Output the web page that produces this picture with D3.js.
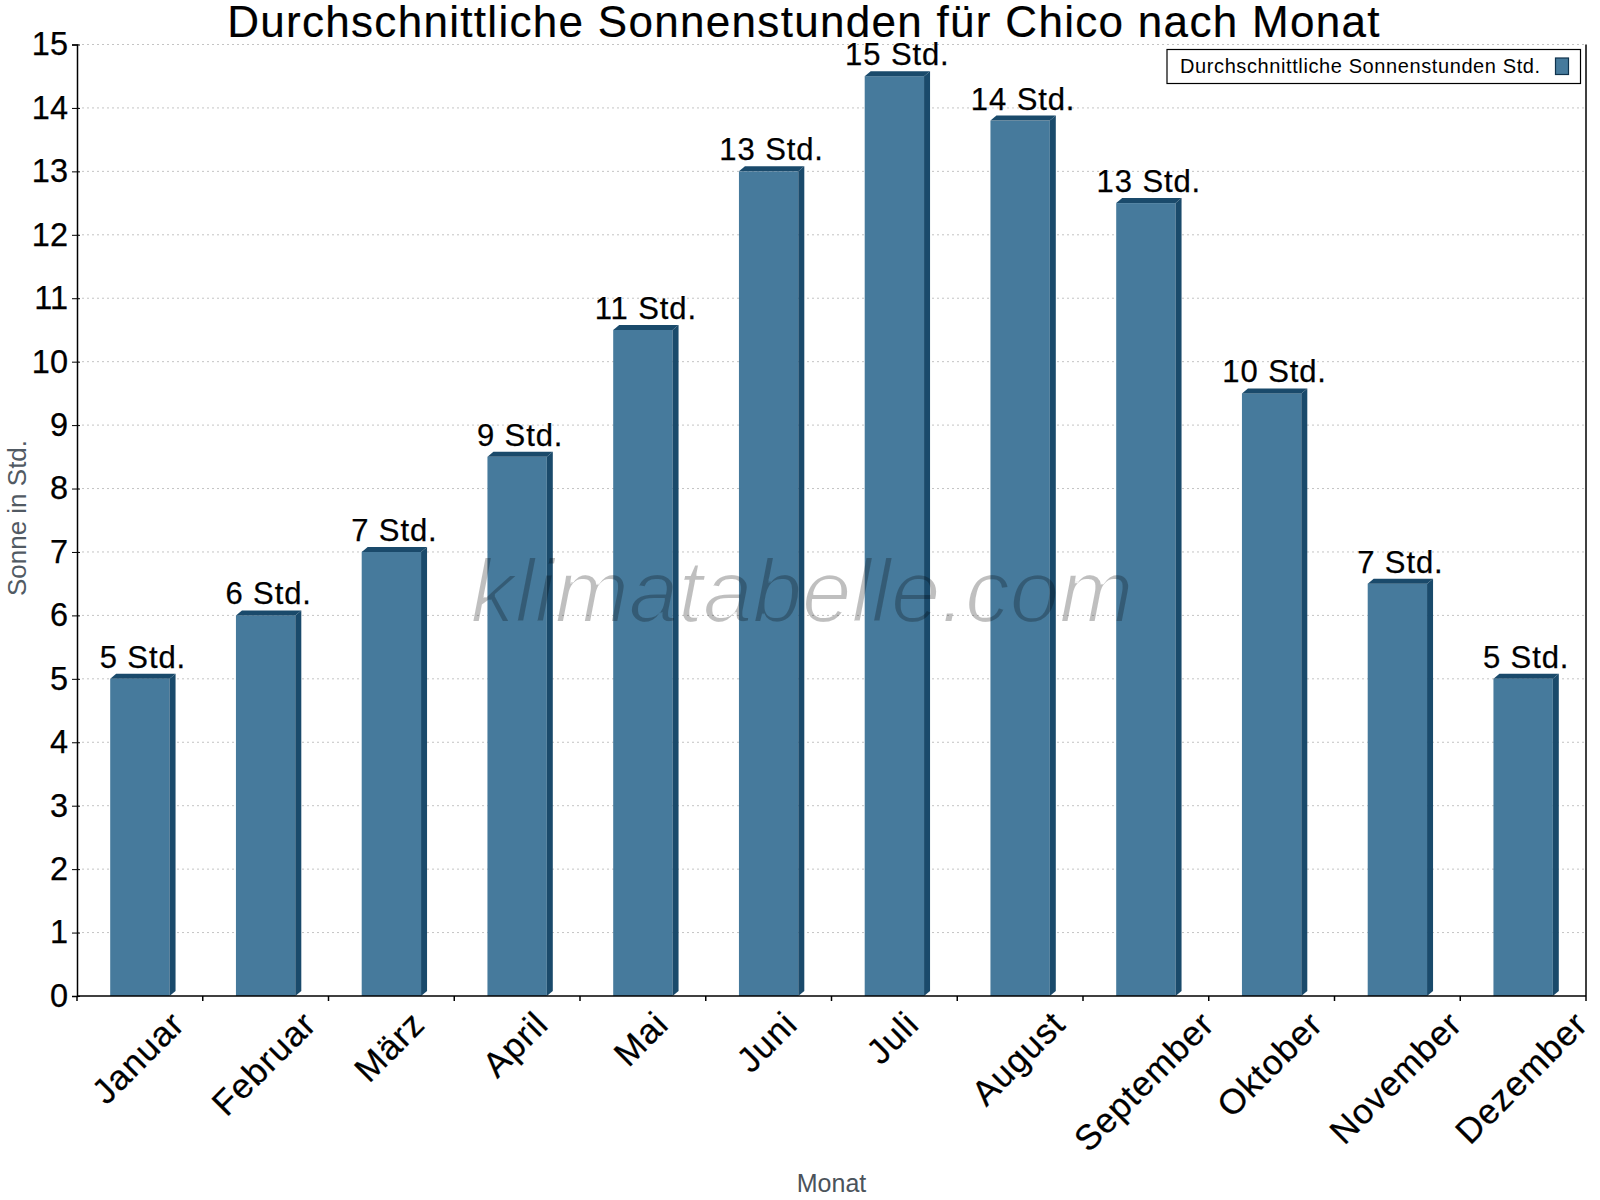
<!DOCTYPE html>
<html lang="de">
  <head>
    <meta charset="utf-8">
    <title>Durchschnittliche Sonnenstunden Chico</title>
    <script src="https://cdn.jsdelivr.net/npm/d3@7"></script>
  </head>
  <style>
    body { margin: 0; background: #fff; }
    text { font-family: 'Liberation Sans', Arial, sans-serif; }
  </style>
  <body>
    <div id="chart-area"></div>
    <script>
      const months = ['Januar','Februar','März','April','Mai','Juni','Juli','August','September','Oktober','November','Dezember'];
      const sunHours = [5, 6, 7, 8.5, 10.5, 13, 14.5, 13.8, 12.5, 9.5, 6.5, 5];
      const yTicks = [0,1,2,3,4,5,6,7,8,9,10,11,12,13,14,15];
      const unit = 'Std.';

      const svg_width = 1600;
      const svg_height = 1200;
      const plot_left = 77, plot_right = 1586, plot_top = 44.5, plot_bottom = 996;
      const depth = 6; // 3d offset of bar side/top
      const front_color = '#467a9c';
      const dark_color = '#1a4a6b';

      const svg = d3.select('#chart-area')
        .append('svg')
        .attr('width', svg_width)
        .attr('height', svg_height);

      //thin the watermark strokes (no light font face available)
      svg.append('defs')
        .append('filter')
        .attr('id', 'thin')
        .append('feMorphology')
        .attr('operator', 'erode')
        .attr('radius', 1);

      //scales
      const x_scale = d3.scaleBand()
        .domain(months)
        .range([plot_left, plot_right]);
      const y_scale = d3.scaleLinear()
        .domain([0, 15])
        .range([plot_bottom, plot_top]);
      const bar_w = x_scale.bandwidth() * 0.472;
      const bar_x = (m) => x_scale(m) + (x_scale.bandwidth() - bar_w) / 2;

      //grid lines
      svg.append('g')
        .selectAll('line')
        .data(yTicks.slice(1))
        .enter()
        .append('line')
        .attr('x1', plot_left).attr('x2', plot_right)
        .attr('y1', d => y_scale(d)).attr('y2', d => y_scale(d))
        .attr('stroke', '#c4c4c4')
        .attr('stroke-width', 1)
        .attr('stroke-dasharray', '2,3');

      //bars: front, side, top
      const bars = svg.append('g')
        .selectAll('g')
        .data(months.map((m, i) => ({m: m, v: sunHours[i]})))
        .enter()
        .append('g');
      bars.append('rect')
        .attr('x', d => bar_x(d.m))
        .attr('y', d => y_scale(d.v))
        .attr('width', bar_w)
        .attr('height', d => plot_bottom - y_scale(d.v))
        .attr('fill', front_color);
      bars.append('path')
        .attr('d', d => {
          const x1 = bar_x(d.m) + bar_w, y0 = y_scale(d.v);
          return `M${x1},${y0}L${x1 + depth},${y0 - depth + 1}L${x1 + depth},${plot_bottom - depth + 1}L${x1},${plot_bottom}Z`;
        })
        .attr('fill', dark_color);
      bars.append('path')
        .attr('d', d => {
          const x0 = bar_x(d.m), x1 = x0 + bar_w, y0 = y_scale(d.v);
          return `M${x0},${y0}L${x0 + depth},${y0 - depth + 1}L${x1 + depth},${y0 - depth + 1}L${x1},${y0}Z`;
        })
        .attr('fill', dark_color);

      //y axis
      const y_axis = svg.append('g')
        .attr('transform', `translate(${plot_left},0)`)
        .call(d3.axisLeft(y_scale).tickValues(yTicks).tickSize(5).tickPadding(4).tickFormat(d3.format('d')));
      y_axis.select('.domain').attr('stroke', '#000').attr('stroke-width', 1.5);
      y_axis.selectAll('.tick line').attr('x2', -5).attr('x1', 3).attr('stroke', '#000');
      y_axis.selectAll('.tick text')
        .attr('font-size', 32.5)
        .attr('fill', '#000')
        .attr('stroke', '#000')
        .attr('stroke-width', 0.25)
        .attr('font-family', "'Liberation Sans', Arial, sans-serif");

      //right border
      svg.append('line')
        .attr('x1', plot_right).attr('x2', plot_right)
        .attr('y1', plot_top).attr('y2', plot_bottom)
        .attr('stroke', '#000').attr('stroke-width', 1.5);

      //x axis with ticks at the band edges
      svg.append('line')
        .attr('x1', plot_left).attr('x2', plot_right)
        .attr('y1', plot_bottom).attr('y2', plot_bottom)
        .attr('stroke', '#000').attr('stroke-width', 1.5);
      svg.append('g')
        .selectAll('line')
        .data(months.concat(['end']))
        .enter()
        .append('line')
        .attr('x1', (d, i) => i < months.length ? x_scale(d) : plot_right)
        .attr('x2', (d, i) => i < months.length ? x_scale(d) : plot_right)
        .attr('y1', plot_bottom).attr('y2', plot_bottom + 5)
        .attr('stroke', '#000').attr('stroke-width', 1.5);

      //x labels, rotated, box centred below each band
      const x_font = 35;
      svg.append('g')
        .selectAll('text')
        .data(months)
        .enter()
        .append('text')
        .attr('font-size', x_font)
        .attr('letter-spacing', 1)
        .attr('stroke', '#000')
        .attr('stroke-width', 0.25)
        .attr('text-anchor', 'middle')
        .attr('dy', '0.35em')
        .text(d => d)
        .attr('transform', function(d) {
          const w = this.getComputedTextLength();
          const box = (w + x_font * 0.85) * Math.SQRT1_2;
          const cx = x_scale(d) + x_scale.bandwidth() / 2 - 2;
          return `translate(${cx},${1007 + box / 2}) rotate(-45)`;
        });

      //watermark
      svg.append('text')
        .attr('x', 802)
        .attr('y', 622)
        .attr('text-anchor', 'middle')
        .attr('font-family', 'Roboto, sans-serif')
        .attr('font-style', 'italic')
        .attr('font-size', 89)
        .attr('fill', 'rgba(0,0,0,0.25)')
        .attr('filter', 'url(#thin)')
        .text('klimatabelle.com');

      //value labels
      svg.append('g')
        .selectAll('text')
        .data(months.map((m, i) => ({m: m, v: sunHours[i]})))
        .enter()
        .append('text')
        .attr('x', d => bar_x(d.m) + (bar_w + depth) / 2)
        .attr('y', d => y_scale(d.v) - 11)
        .attr('text-anchor', 'middle')
        .attr('font-size', 31)
        .attr('letter-spacing', 0.9)
        .attr('fill', '#000')
        .attr('stroke', '#000')
        .attr('stroke-width', 0.25)
        .text(d => `${Math.round(d.v)} ${unit}`);

      //title
      svg.append('text')
        .attr('x', 804)
        .attr('y', 37)
        .attr('text-anchor', 'middle')
        .attr('font-size', 44)
        .attr('letter-spacing', 1.3)
        .attr('fill', '#000')
        .attr('stroke', '#000')
        .attr('stroke-width', 0.2)
        .text('Durchschnittliche Sonnenstunden für Chico nach Monat');

      //axis titles
      svg.append('text')
        .attr('transform', 'translate(26,518) rotate(-90)')
        .attr('text-anchor', 'middle')
        .attr('font-size', 26)
        .attr('fill', '#515a63')
        .text('Sonne in Std.');
      svg.append('text')
        .attr('x', (plot_left + plot_right) / 2)
        .attr('y', 1191.5)
        .attr('text-anchor', 'middle')
        .attr('font-size', 25)
        .attr('fill', '#4b535b')
        .text('Monat');

      //legend
      const legend = svg.append('g');
      legend.append('rect')
        .attr('x', 1167).attr('y', 49.5)
        .attr('width', 413.5).attr('height', 34)
        .attr('fill', '#fff')
        .attr('stroke', '#000').attr('stroke-width', 1.2);
      legend.append('text')
        .attr('x', 1180).attr('y', 73)
        .attr('font-size', 20)
        .attr('letter-spacing', 0.6)
        .attr('fill', '#000')
        .text('Durchschnittliche Sonnenstunden Std.');
      legend.append('rect')
        .attr('x', 1555.5).attr('y', 58)
        .attr('width', 13).attr('height', 16.5)
        .attr('fill', front_color)
        .attr('stroke', '#10334d').attr('stroke-width', 1.2);
    </script>
  </body>
</html>
